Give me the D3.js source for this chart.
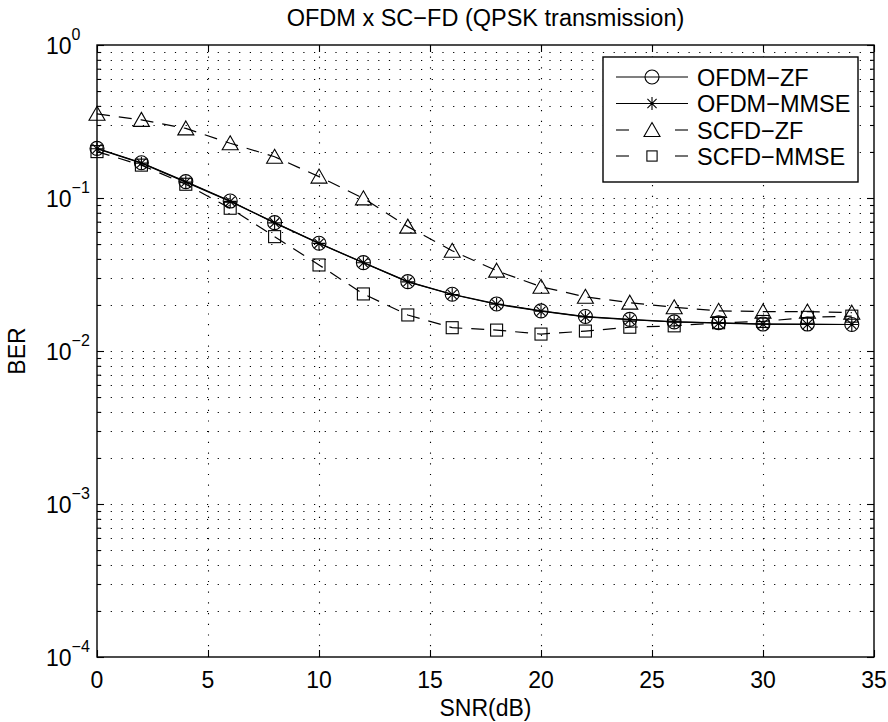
<!DOCTYPE html>
<html>
<head>
<meta charset="utf-8">
<script src="https://cdn.jsdelivr.net/npm/d3@7"></script>
<style>
  body { margin: 0; background: #fff; }
  text { font-family: "Liberation Sans", Arial, Helvetica, sans-serif; fill: #000; }
</style>
</head>
<body>
<div id="graph"></div>
<script>
// SNR points (dB)
const snr = [0, 2, 4, 6, 8, 10, 12, 14, 16, 18, 20, 22, 24, 26, 28, 30, 32, 34];

// BER
const ofdmZF   = [0.211, 0.170, 0.128, 0.0955, 0.069, 0.0506, 0.0378, 0.0284, 0.0235, 0.0203, 0.0183, 0.0168, 0.0161, 0.0155, 0.0153, 0.0150, 0.0150, 0.0149];
const ofdmMMSE = [0.210, 0.169, 0.127, 0.0950, 0.0688, 0.0505, 0.0377, 0.0283, 0.0234, 0.0202, 0.0182, 0.0167, 0.0160, 0.0155, 0.0152, 0.0150, 0.0149, 0.0149];
const scfdZF   = [0.355, 0.324, 0.285, 0.228, 0.186, 0.138, 0.0995, 0.065, 0.0452, 0.0335, 0.0263, 0.0226, 0.0207, 0.0193, 0.0183, 0.0181, 0.0181, 0.0178];
const scfdMMSE = [0.201, 0.164, 0.123, 0.0857, 0.0559, 0.0365, 0.0236, 0.0172, 0.0142, 0.0137, 0.0129, 0.0135, 0.0143, 0.0146, 0.0153, 0.0156, 0.0166, 0.0169];

const seriesNames = ["OFDM\u2212ZF", "OFDM\u2212MMSE", "SCFD\u2212ZF", "SCFD\u2212MMSE"];
const xTicks = [0, 5, 10, 15, 20, 25, 30, 35];
const yExponents = [0, -1, -2, -3, -4];

const width = 888;
const height = 722;
const padL = 97, padR = 874, padT = 45, padB = 657;
const fontSize = "23px";

const svg = d3.select("#graph")
              .append("svg")
              .attr("width", width)
              .attr("height", height);

svg.append("rect").attr("width", width).attr("height", height).attr("fill", "#fff");

const xScale = d3.scaleLinear().domain([0, 35]).range([padL, padR]);
const yScale = d3.scaleLog().domain([1e-4, 1]).range([padB, padT]);

// all log ticks 1..9 x 10^k
const logTicks = [];
for (let k = -4; k < 0; k++) {
  for (let m = 1; m <= 9; m++) logTicks.push(m * Math.pow(10, k));
}
logTicks.push(1);
const majorY = yExponents.map(e => Math.pow(10, e));
const minorY = logTicks.filter(v => !majorY.some(m => Math.abs(m - v) < 1e-12));

// grid (dotted)
const grid = svg.append("g")
                .attr("stroke", "#000")
                .attr("stroke-width", 1.1)
                .attr("stroke-dasharray", "1.2,9.5")
                .attr("fill", "none");

grid.selectAll("line.gx")
    .data(xTicks.slice(1, -1))
    .enter()
    .append("line")
    .attr("x1", d => Math.round(xScale(d)) + 0.5).attr("x2", d => Math.round(xScale(d)) + 0.5)
    .attr("y1", padB).attr("y2", padT);

grid.selectAll("line.gy")
    .data(logTicks.slice(1, -1))
    .enter()
    .append("line")
    .attr("x1", padL + 3).attr("x2", padR)
    .attr("y1", d => Math.round(yScale(d)) + 0.5).attr("y2", d => Math.round(yScale(d)) + 0.5);

// axes with inward ticks on all four sides
const axisG = svg.append("g");

axisG.append("g")
     .attr("transform", `translate(0, ${padB})`)
     .call(d3.axisBottom(xScale).tickValues(xTicks).tickSize(-7).tickFormat(""))
     .call(g => g.select(".domain").remove());

axisG.append("g")
     .attr("transform", `translate(0, ${padT})`)
     .call(d3.axisTop(xScale).tickValues(xTicks).tickSize(-7).tickFormat(""))
     .call(g => g.select(".domain").remove());

axisG.append("g")
     .attr("transform", `translate(${padL}, 0)`)
     .call(d3.axisLeft(yScale).tickValues(majorY).tickSize(-7).tickFormat(""))
     .call(g => g.select(".domain").remove());

axisG.append("g")
     .attr("transform", `translate(${padL}, 0)`)
     .call(d3.axisLeft(yScale).tickValues(minorY).tickSize(-4).tickFormat(""))
     .call(g => g.select(".domain").remove());

axisG.append("g")
     .attr("transform", `translate(${padR}, 0)`)
     .call(d3.axisRight(yScale).tickValues(majorY).tickSize(-7).tickFormat(""))
     .call(g => g.select(".domain").remove());

axisG.append("g")
     .attr("transform", `translate(${padR}, 0)`)
     .call(d3.axisRight(yScale).tickValues(minorY).tickSize(-4).tickFormat(""))
     .call(g => g.select(".domain").remove());

axisG.selectAll("line").attr("stroke", "#000").attr("stroke-width", 1.1);

// x tick labels
svg.selectAll("text.xlab")
   .data(xTicks)
   .enter()
   .append("text")
   .attr("x", d => xScale(d))
   .attr("y", padB + 31)
   .style("text-anchor", "middle")
   .style("font-size", fontSize)
   .text(d => d);

// y tick labels 10^k
const ylab = svg.selectAll("text.ylab")
                .data(yExponents)
                .enter()
                .append("text")
                .attr("x", 46)
                .attr("y", d => yScale(Math.pow(10, d)) + 9)
                .style("font-size", fontSize);
ylab.append("tspan").text("10");
ylab.append("tspan")
    .attr("dy", -14)
    .style("font-size", "16px")
    .text(d => d === 0 ? "0" : "\u2212" + (-d));

// data lines
const line = d3.line()
               .x((d, i) => xScale(snr[i]))
               .y(d => yScale(d));

const lines = svg.append("g").attr("fill", "none").attr("stroke", "#000").attr("stroke-width", 1.2);
lines.append("path").attr("d", line(ofdmZF));
lines.append("path").attr("d", line(ofdmMMSE));
lines.append("path").attr("d", line(scfdZF)).attr("stroke-dasharray", "13,9");
lines.append("path").attr("d", line(scfdMMSE)).attr("stroke-dasharray", "13,9");

// marker shapes
const circleMarker = (g, s) => g.append("circle").attr("r", 7 * s);
const starMarker = (g, s) => {
  const r = 6.5 * s;
  const p = [];
  for (let k = 0; k < 4; k++) {
    const a = k * Math.PI / 4;
    p.push(`M${-r * Math.cos(a)},${-r * Math.sin(a)}L${r * Math.cos(a)},${r * Math.sin(a)}`);
  }
  g.append("path").attr("d", p.join(""));
};
const triMarker = (g, s) => g.append("path").attr("d", `M0,${-7.5 * s}L${8 * s},${6.5 * s}L${-8 * s},${6.5 * s}Z`);
const squareMarker = (g, s) => g.append("rect").attr("x", -6 * s).attr("y", -6 * s).attr("width", 12 * s).attr("height", 12 * s);

const markerFns = [circleMarker, starMarker, triMarker, squareMarker];
const allSeries = [ofdmZF, ofdmMMSE, scfdZF, scfdMMSE];

const marks = svg.append("g").attr("fill", "none").attr("stroke", "#000").attr("stroke-width", 1.1);
allSeries.forEach((vals, si) => {
  marks.selectAll(null)
       .data(vals)
       .enter()
       .append("g")
       .attr("transform", (d, i) => `translate(${xScale(snr[i])}, ${yScale(d)})`)
       .each(function() { markerFns[si](d3.select(this), 1); });
});

// axes box
svg.append("rect")
   .attr("x", padL).attr("y", padT)
   .attr("width", padR - padL).attr("height", padB - padT)
   .attr("fill", "none").attr("stroke", "#000").attr("stroke-width", 1.4);

// legend
const legend = svg.append("g");
legend.append("rect")
      .attr("x", 603).attr("y", 57)
      .attr("width", 255).attr("height", 125)
      .attr("fill", "#fff").attr("stroke", "#000").attr("stroke-width", 1.4);

const legendY = [77, 103.5, 130, 156];
seriesNames.forEach((name, i) => {
  const y = legendY[i];
  const g = legend.append("g").attr("stroke", "#000").attr("fill", "none").attr("stroke-width", 1.1);
  if (i < 2) {
    g.append("line").attr("x1", 616).attr("x2", 688).attr("y1", y).attr("y2", y);
  } else {
    g.append("line").attr("x1", 616).attr("x2", 629).attr("y1", y).attr("y2", y);
    g.append("line").attr("x1", 675).attr("x2", 688).attr("y1", y).attr("y2", y);
  }
  const mg = g.append("g").attr("transform", `translate(652, ${y})`);
  markerFns[i](mg, i === 3 ? 0.85 : 1);
  legend.append("text")
        .attr("x", 697)
        .attr("y", y + 8.5)
        .style("font-size", "23.5px")
        .text(name);
});

// title and axis labels
svg.append("text")
   .attr("x", (padL + padR) / 2)
   .attr("y", 26)
   .style("text-anchor", "middle")
   .style("font-size", "23.5px")
   .text("OFDM x SC\u2212FD (QPSK transmission)");

svg.append("text")
   .attr("x", (padL + padR) / 2)
   .attr("y", 716)
   .style("text-anchor", "middle")
   .style("font-size", fontSize)
   .text("SNR(dB)");

svg.append("text")
   .attr("transform", `translate(25, ${(padT + padB) / 2}) rotate(-90)`)
   .style("text-anchor", "middle")
   .style("font-size", fontSize)
   .text("BER");
</script>
</body>
</html>
